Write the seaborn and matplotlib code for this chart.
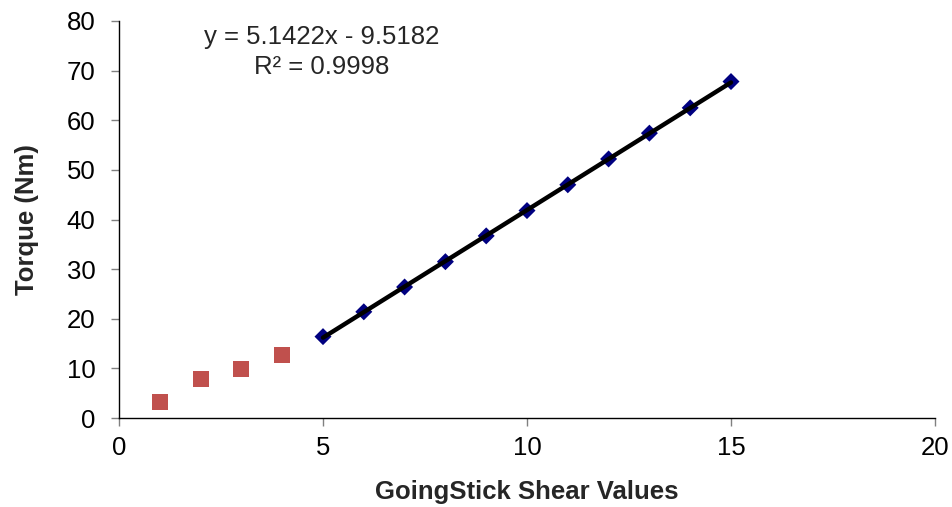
import numpy as np
import pandas as pd
import matplotlib
matplotlib.use("Agg")
import matplotlib.pyplot as plt
import seaborn as sns

# Low-range readings (not part of the fit)
low_shear = [1, 2, 3, 4]
low_torque = [3.2, 7.8, 9.8, 12.7]

# Calibrated range used for the linear trendline
fit_shear = [5, 6, 7, 8, 9, 10, 11, 12, 13, 14, 15]
fit_torque = [16.4, 21.4, 26.4, 31.5, 36.7, 41.8, 47.0, 52.2, 57.4, 62.5, 67.8]

# Trendline parameters
slope = 5.1422
intercept = -9.5182
r_squared = 0.9998

x_ticks = [0, 5, 10, 15, 20]
y_ticks = [0, 10, 20, 30, 40, 50, 60, 70, 80]

sns.set_theme(style="white")
plt.rcParams["font.family"] = ["Liberation Sans", "DejaVu Sans"]

fig = plt.figure(figsize=(9.53, 5.07), dpi=100)
ax = fig.add_axes([119 / 953, 1 - 418 / 507, (935 - 119) / 953, (418 - 21) / 507])

low_df = pd.DataFrame({"shear": low_shear, "torque": low_torque})
fit_df = pd.DataFrame({"shear": fit_shear, "torque": fit_torque})

sns.scatterplot(data=low_df, x="shear", y="torque", ax=ax, marker="s",
                s=135, color="#C0504D", edgecolor="none", zorder=3)
sns.scatterplot(data=fit_df, x="shear", y="torque", ax=ax, marker="D",
                s=75, color="#000080", edgecolor="none", zorder=3)

x_line = np.array([min(fit_shear), max(fit_shear)], dtype=float)
sns.lineplot(x=x_line, y=slope * x_line + intercept, ax=ax,
             color="black", linewidth=3.2, zorder=4)

ax.set_xlim(0, 20)
ax.set_ylim(0, 80)
ax.set_xticks(x_ticks)
ax.set_yticks(y_ticks)

for side in ("top", "right"):
    ax.spines[side].set_visible(False)
for side in ("left", "bottom"):
    ax.spines[side].set_color("black")
    ax.spines[side].set_linewidth(1.0)

ax.tick_params(axis="both", which="major", direction="out", length=6,
               width=1, color="#808080", labelsize=18.5, labelcolor="black",
               left=True, bottom=True)
ax.tick_params(axis="y", pad=11)
ax.tick_params(axis="x", pad=7)

ax.set_xlabel("GoingStick Shear Values", fontsize=18.5, fontweight="bold",
              labelpad=14)
ax.set_ylabel("Torque (Nm)", fontsize=18.5, fontweight="bold", labelpad=20)

sign = "-" if intercept < 0 else "+"
fig.text(322 / 953, 1 - 37 / 507,
         f"y = {slope:.4f}x {sign} {abs(intercept):.4f}",
         ha="center", va="center", fontsize=18.5)
fig.text(322 / 953, 1 - 67 / 507, f"R² = {r_squared:.4f}",
         ha="center", va="center", fontsize=18.5)

fig.savefig("out.png", dpi=100)
